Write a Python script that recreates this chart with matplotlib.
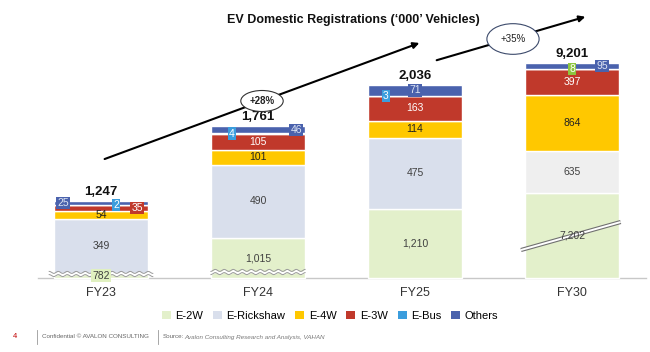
import matplotlib.pyplot as plt
import numpy as np
from matplotlib.patches import Patch
from matplotlib.lines import Line2D

plt.rcParams['font.family'] = ['Liberation Sans', 'DejaVu Sans']

# data ('000 vehicles)
years = ["FY23", "FY24", "FY25", "FY30"]
totals = [1247, 1761, 2036, 9201]
e2w = [782, 1015, 1210, 7202]
rickshaw = [349, 490, 475, 635]
e4w = [54, 101, 114, 864]
e3w = [35, 105, 163, 397]
ebus = [2, 4, 3, 8]
others = [25, 46, 71, 95]
growth = ["+28%", "+35%"]
series_names = ["E-2W", "E-Rickshaw", "E-4W", "E-3W", "E-Bus", "Others"]

# chart is not to scale: each bar has its own scale and the E-2W part is cut off
scale = [0.155, 0.15, 0.15, 0.065]
cut = [750, 750, 750, 5890]

colors = {"E-2W": "#e3f0cb", "E-Rickshaw": "#d9dfec", "E-4W": "#ffc800",
          "E-3W": "#c0392b", "E-Bus": "#3b9ddd", "Others": "#4a62ad"}

fig = plt.figure(figsize=(6.5, 3.52), dpi=100)
ax = fig.add_axes([0, 0, 1, 1])
ax.set_xlim(-101 / 157, 3 + 78 / 157)
ax.set_ylim(-74, 278)
ax.axis('off')

x = np.arange(len(years))
w = 0.6
data = [e2w, rickshaw, e4w, e3w, ebus, others]
bottom = np.zeros(len(years))
segs = {}
for name, vals in zip(series_names, data):
    v = np.array(vals, float)
    if name == "E-2W":
        v = v - np.array(cut)
    h = v * np.array(scale)
    cols = [colors[name]] * len(years)
    if name == "E-Rickshaw":
        cols[3] = "#efefef"
    ax.bar(x, h, w, bottom=bottom, color=cols, edgecolor='white', linewidth=1, zorder=2)
    segs[name] = (bottom.copy(), h)
    bottom += h


def seg_label(i, name, text, dx=0, color='#404040', box=None, size=7.5):
    b, h = segs[name]
    kw = {}
    if box:
        kw['bbox'] = dict(boxstyle='square,pad=0.12', fc=box, ec='none')
    ax.annotate(text, (x[i], b[i] + h[i] / 2), xytext=(dx, 0), textcoords='offset pixels',
                ha='center', va='center', color=color, fontsize=size, zorder=6, **kw)


for i in range(len(years)):
    seg_label(i, "E-2W", f"{e2w[i]:,}", box="#e0f0c0" if i == 0 else None)
    seg_label(i, "E-Rickshaw", f"{rickshaw[i]:,}")
    seg_label(i, "E-4W", f"{e4w[i]:,}", color='#222222')

seg_label(0, "E-3W", str(e3w[0]), dx=36, color='white', box=colors["E-3W"])
for i in range(1, 4):
    seg_label(i, "E-3W", str(e3w[i]), color='white')

bus_dx = [15, -26, -29, 0]
bus_box = [colors["E-Bus"]] * 3 + ["#8dc63f"]
oth_dx = [-38, 38, 0, 30]
for i in range(len(years)):
    seg_label(i, "E-Bus", str(ebus[i]), dx=bus_dx[i], color='white', box=bus_box[i])
    seg_label(i, "Others", str(others[i]), dx=oth_dx[i], color='#dde4f3', box=colors["Others"])

# totals
for i in range(len(years)):
    ax.annotate(f"{totals[i]:,}", (x[i], bottom[i]), xytext=(0, 3), textcoords='offset pixels',
                ha='center', va='bottom', fontweight='bold', fontsize=9.5, color='#111111')

# wavy break marks on FY23 / FY24
break_y = [4, 6]
for i, y0 in enumerate(break_y):
    half = w / 2 + (0.03 if i == 0 else 0)
    xx = np.linspace(x[i] - half, x[i] + half, 300)
    yy = y0 + 1.0 * np.sin(2 * np.pi * (xx - x[i]) * 157 / 9)
    ax.fill_between(xx, yy - 1.6, yy + 1.6, color='white', zorder=4, lw=0)
    ax.plot(xx, yy + 1.6, color='#9a9a9a', lw=0.7, zorder=4)
    ax.plot(xx, yy - 1.6, color='#9a9a9a', lw=0.7, zorder=4)

# diagonal break on FY30
bx = [x[3] - 0.325, x[3] + 0.31]
by = [28, 56]
ax.plot(bx, by, color='#707070', lw=3.0, zorder=4, solid_capstyle='butt')
ax.plot(bx, by, color='white', lw=1.4, zorder=4, solid_capstyle='butt')

# axis line and category labels
ax.axhline(0, xmin=38 / 650, xmax=646 / 650, color='#c8c8c8', lw=1, zorder=1)
for i, yr in enumerate(years):
    ax.text(x[i], -15, yr, ha='center', va='center', fontsize=9, color='#333333')

# growth arrows
ax.annotate('', xy=(422, 352 - 42), xytext=(102, 352 - 160), xycoords='figure pixels',
            textcoords='figure pixels',
            arrowprops=dict(arrowstyle='-|>', color='black', lw=1.5, mutation_scale=9))
ax.annotate('', xy=(588, 352 - 16), xytext=(434, 352 - 61), xycoords='figure pixels',
            textcoords='figure pixels',
            arrowprops=dict(arrowstyle='-|>', color='black', lw=1.5, mutation_scale=9))
fig.text(262 / 650, 1 - 101 / 352, growth[0], ha='center', va='center', fontsize=7,
         fontweight='bold', color='#222222',
         bbox=dict(boxstyle='ellipse,pad=0.25', fc='white', ec='#333333', lw=0.8))
fig.text(513 / 650, 1 - 39 / 352, growth[1], ha='center', va='center', fontsize=7,
         color='#222222',
         bbox=dict(boxstyle='ellipse,pad=0.6', fc='white', ec='#3c4a6b', lw=0.8))

fig.text(353 / 650, 1 - 20 / 352, "EV Domestic Registrations (\u2018000\u2019 Vehicles)",
         ha='center', va='center', fontsize=9, fontweight='bold', color='#111111')

# legend
handles = [Patch(fc=colors[n], ec='none') for n in series_names]
fig.legend(handles, series_names, loc='center', bbox_to_anchor=(330 / 650, 1 - 316 / 352),
           ncol=6, frameon=False, fontsize=8, handlelength=0.8, handleheight=0.8,
           handletextpad=0.4, columnspacing=0.9)

# footer
fy = 1 - 337 / 352
fig.text(15 / 650, fy, "4", color='#c00000', fontsize=5.5, ha='center', va='center')
for xp in [37, 158]:
    fig.add_artist(Line2D([xp / 650] * 2, [1 - 330 / 352, 1 - 344 / 352], color='#999999', lw=0.6))
fig.text(42 / 650, fy, "Confidential \u00a9 AVALON CONSULTING", fontsize=4.5, color='#666666', va='center')
fig.text(163 / 650, fy, "Source:", fontsize=4.5, color='#666666', va='center')
fig.text(184 / 650, fy, "Avalon Consulting Research and Analysis, VAHAN", fontsize=4.5,
         color='#777777', style='italic', va='center')

fig.savefig('out.png', dpi=100)
